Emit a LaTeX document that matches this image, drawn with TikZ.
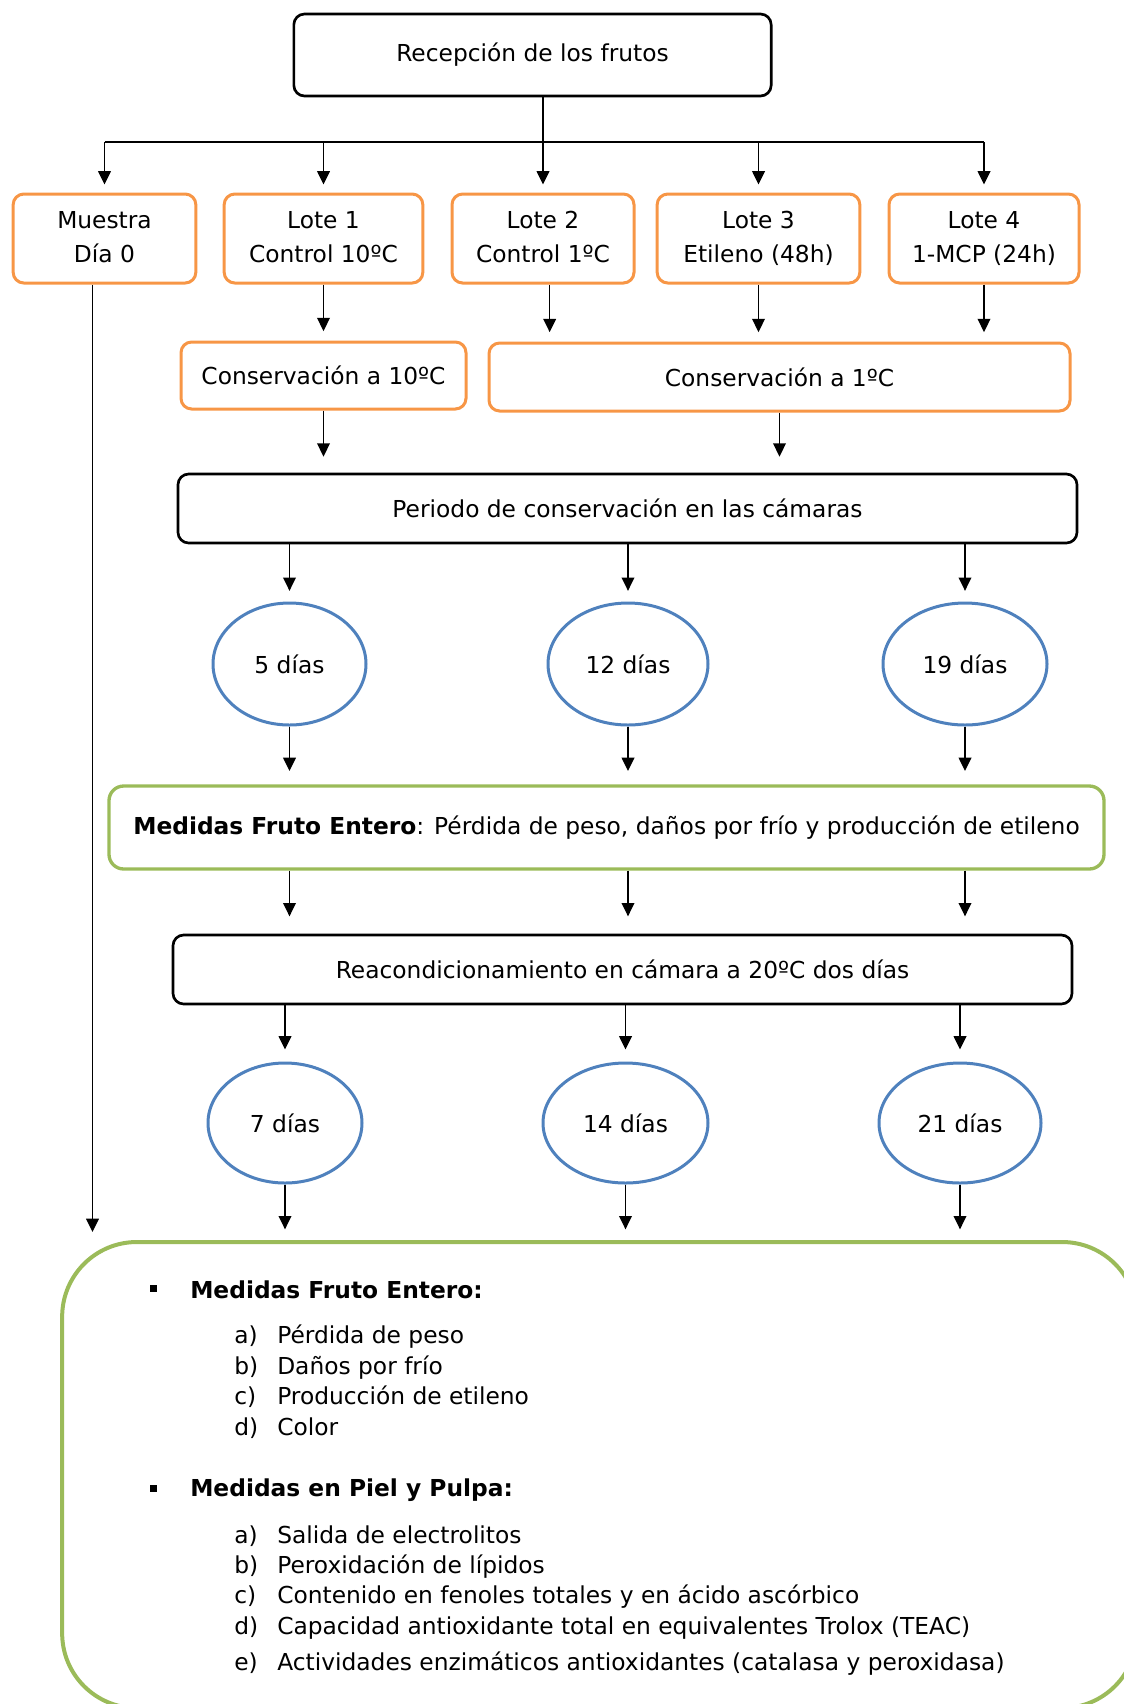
\documentclass[tikz,border=0pt]{standalone}
\usepackage{fontspec}
\setmainfont{DejaVu Sans}
\usetikzlibrary{
  arrows.meta,      % puntas Triangle
  shapes.geometric  % elipses de los días
}
\definecolor{naranja}{HTML}{F79646}
\definecolor{azul}{HTML}{4F81BD}
\definecolor{verde}{HTML}{9BBB59}

\begin{document}
\begin{tikzpicture}[x=0.75pt, y=-0.75pt, >={Triangle[length=10pt, width=9.5pt]},
  font=\fontsize{17.5}{26}\selectfont,
  negra/.style={draw=black, line width=2pt, rounded corners=8pt, align=center},
  lote/.style={draw=naranja, line width=2.25pt, rounded corners=8pt, align=center},
  dias/.style={ellipse, draw=azul, line width=2.25pt, inner sep=0pt},
  medida/.style={draw=verde, line width=2.5pt, rounded corners=11pt},
  flecha/.style={->, line width=1.1pt, shorten >=#1},
  flecha/.default=6pt]
  \useasboundingbox (0,0) rectangle (1124,1704);
  \clip (0,0) rectangle (1124,1704);

  % === Recepción y lotes ===
  \node[negra, minimum width=358pt, minimum height=61.5pt] (recep) at (532.5, 55) {Recepción de los frutos};

  \node[lote, minimum width=137pt, minimum height=66.75pt] (muestra) at (104.5, 238.5) {\strut Muestra\\\strut Día 0};
  \node[lote, minimum width=149pt, minimum height=66.75pt] (lote1) at (323.5, 238.5) {\strut Lote 1\\\strut Control 10ºC};
  \node[lote, minimum width=136.5pt, minimum height=66.75pt] (lote2) at (543, 238.5) {\strut Lote 2\\\strut Control 1ºC};
  \node[lote, minimum width=152pt, minimum height=66.75pt] (lote3) at (758.5, 238.5) {\strut Lote 3\\\strut Etileno (48h)};
  \node[lote, minimum width=142.5pt, minimum height=66.75pt] (lote4) at (984, 238.5) {\strut Lote 4\\\strut 1-MCP (24h)};

  \coordinate (rama) at (532.5, 142);
  \draw[line width=1.1pt] (muestra |- rama) -- (lote4 |- rama);
  \draw[flecha] (lote2 |- recep.south) -- (lote2.north);
  \foreach \n in {muestra, lote1, lote3, lote4}
    \draw[flecha] (\n |- rama) -- (\n.north);

  % === Conservación ===
  \node[lote, minimum width=213.75pt, minimum height=50.25pt] (cons10) at (323.5, 375.5) {Conservación a 10ºC};
  \node[lote, minimum width=435.75pt, minimum height=51pt] (cons1) at (779.5, 377) {Conservación a 1ºC};

  \draw[flecha=7pt] (lote1.south) -- (lote1 |- cons10.north);
  \draw[flecha=7pt] ([xshift=5pt]lote2.south) -- ([xshift=5pt]lote2.south |- cons1.north);
  \foreach \n in {lote3, lote4}
    \draw[flecha=7pt] (\n.south) -- (\n |- cons1.north);

  % === Periodo en cámaras ===
  \node[negra, minimum width=674.25pt, minimum height=51.75pt] (periodo) at (627.5, 508.5) {Periodo de conservación en las cámaras};
  \draw[flecha=12pt] (cons10.south) -- (cons10 |- periodo.north);
  \draw[flecha=12pt] (cons1.south) -- (cons1 |- periodo.north);

  \node[dias, minimum width=114.75pt, minimum height=91.5pt] (d5) at (289.5, 664) {5 días};
  \node[dias, minimum width=120pt, minimum height=91.5pt] (d12) at (628, 664) {12 días};
  \node[dias, minimum width=123pt, minimum height=91.5pt] (d19) at (965, 664) {19 días};

  % === Medidas tras el periodo ===
  \node[medida, minimum width=746.25pt, minimum height=62.25pt] (medfe) at (606.5, 827.5)
    {\textbf{Medidas Fruto Entero}: Pérdida de peso, daños por frío y producción de etileno};
  \node[negra, minimum width=674.25pt, minimum height=51.75pt] (reac) at (622.5, 969.5) {Reacondicionamiento en cámara a 20ºC dos días};

  \foreach \n in {d5, d12, d19} {
    \draw[flecha=8pt] (\n |- periodo.south) -- (\n.north);
    \draw[flecha=10pt] (\n.south) -- (\n |- medfe.north);
    \draw[flecha=13pt] (\n |- medfe.south) -- (\n |- reac.north);
  }

  \node[dias, minimum width=115.5pt, minimum height=90pt] (d7) at (285, 1123) {7 días};
  \node[dias, minimum width=123.75pt, minimum height=90pt] (d14) at (625.5, 1123) {14 días};
  \node[dias, minimum width=121.5pt, minimum height=90pt] (d21) at (960, 1123) {21 días};

  % === Caja final (sale del borde) ===
  \node[draw=verde, line width=3pt, rounded corners=56pt, minimum width=806pt, minimum height=349.5pt] (final) at (599.5, 1475) {};

  \foreach \n in {d7, d14, d21} {
    \draw[flecha=9pt] (\n |- reac.south) -- (\n.north);
    \draw[flecha=8pt] (\n.south) -- (\n |- final.north);
  }
  \draw[flecha=6pt] ([xshift=-9pt]muestra.south) -- ([xshift=-9pt]muestra.south |- final.north);

  % listas de medidas
  \fill (149.5, 1284.5) rectangle (156.5, 1291.5);
  \node[anchor=base west, inner sep=0pt] (tit1) at (190, 1298) {\textbf{Medidas Fruto Entero:}};
  \foreach \l/\t [count=\i] in {a/Pérdida de peso, b/Daños por frío, c/Producción de etileno, d/Color} {
    \node[anchor=base west, inner sep=0pt] (fel\i) at (234, 1313 + 30.5*\i) {\l)};
    \node[anchor=base west, inner sep=0pt] (fe\i) at (277, 1313 + 30.5*\i) {\t};
  }

  \fill (149.5, 1484.5) rectangle (156.5, 1491.5);
  \node[anchor=base west, inner sep=0pt] (tit2) at (190, 1496) {\textbf{Medidas en Piel y Pulpa:}};
  \foreach \l/\y/\t [count=\i] in {a/1543/Salida de electrolitos, b/1573/Peroxidación de lípidos,
      c/1603/Contenido en fenoles totales y en ácido ascórbico,
      d/1634/Capacidad antioxidante total en equivalentes Trolox (TEAC),
      e/1670/Actividades enzimáticos antioxidantes (catalasa y peroxidasa)} {
    \node[anchor=base west, inner sep=0pt] (ppl\i) at (234, \y) {\l)};
    \node[anchor=base west, inner sep=0pt] (pp\i) at (277, \y) {\t};
  }
\end{tikzpicture}
\end{document}
